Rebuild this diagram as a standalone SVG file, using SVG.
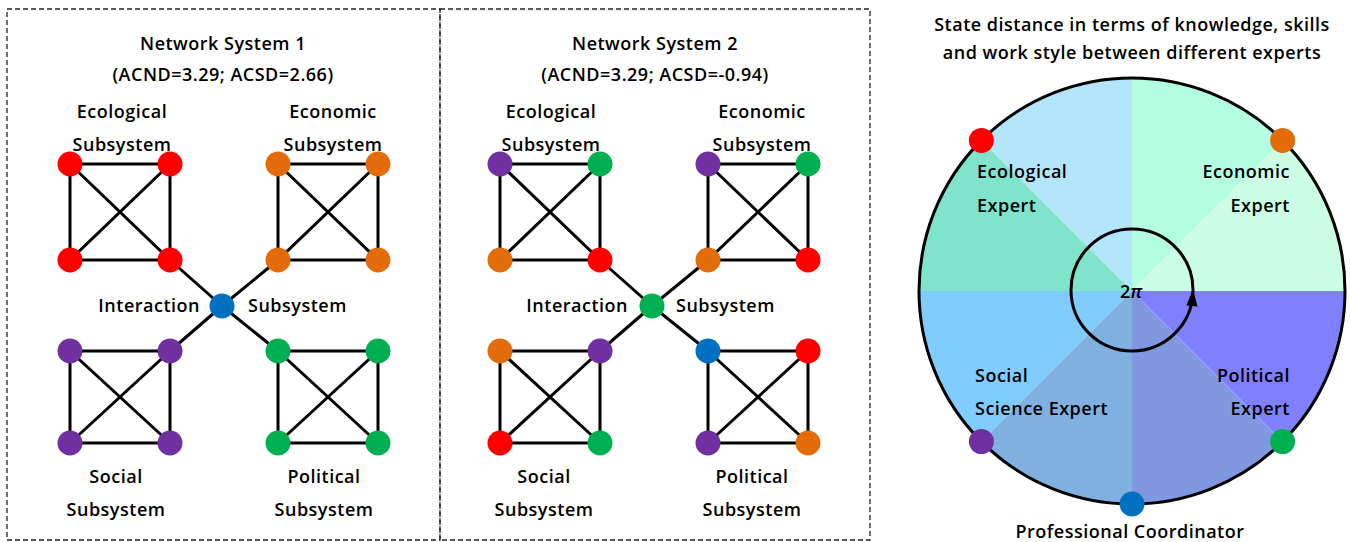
<svg xmlns="http://www.w3.org/2000/svg" width="1350" height="542" viewBox="0 0 1350 542">
  <defs>
    <style>
      .t { font-family: "Open Sans", "Liberation Sans", sans-serif; font-weight: 600; font-size: 18px; letter-spacing: 0.5px; fill: #000; }
      .mid { text-anchor: middle; }
      .end { text-anchor: end; }
      .frame { fill: none; stroke: #222; stroke-width: 1.3; stroke-dasharray: 5 3; }
      .edge { fill: none; stroke: #000; stroke-width: 3; stroke-linejoin: round; }
      .ring { fill: none; stroke: #000; stroke-width: 3; }
      .red { fill: #FF0000; }
      .orange { fill: #E36C0A; }
      .purple { fill: #7030A0; }
      .green { fill: #00B050; }
      .blue { fill: #0070C0; }
    </style>
  </defs>
  <rect width="1350" height="542" fill="#fff"/>

  <!-- dashed panel frames -->
  <rect class="frame" x="7" y="9" width="433" height="531"/>
  <rect class="frame" x="440" y="9" width="430" height="531"/>

  <!-- ===== Network System 1 ===== -->
  <text class="t mid" x="223" y="50">Network System 1</text>
  <text class="t mid" x="223" y="81">(ACND=3.29; ACSD=2.66)</text>

  <g id="connectors">
    <!-- system 1: complete graphs inside each subsystem -->
    <path class="edge" d="M70 164H170V260H70Z M70 164L170 260 M170 164L70 260"/>
    <path class="edge" d="M278 164H378V260H278Z M278 164L378 260 M378 164L278 260"/>
    <path class="edge" d="M70 351H170V443H70Z M70 351L170 443 M170 351L70 443"/>
    <path class="edge" d="M278 351H378V443H278Z M278 351L378 443 M378 351L278 443"/>
    <path class="edge" d="M170 260L222 306 M278 260L222 306 M170 351L222 306 M278 351L222 306"/>
    <!-- system 2 -->
    <path class="edge" d="M500 164H600V260H500Z M500 164L600 260 M600 164L500 260"/>
    <path class="edge" d="M708 164H808V260H708Z M708 164L808 260 M808 164L708 260"/>
    <path class="edge" d="M500 351H600V443H500Z M500 351L600 443 M600 351L500 443"/>
    <path class="edge" d="M708 351H808V443H708Z M708 351L808 443 M808 351L708 443"/>
    <path class="edge" d="M600 260L652 306 M708 260L652 306 M600 351L652 306 M708 351L652 306"/>
  </g>

  <g id="s1-ecological">
    <text class="t mid" x="122" y="118">Ecological</text>
    <text class="t mid" x="122" y="151">Subsystem</text>
    <circle class="red" cx="70" cy="164" r="12.5"/>
    <circle class="red" cx="170" cy="164" r="12.5"/>
    <circle class="red" cx="70" cy="260" r="12.5"/>
    <circle class="red" cx="170" cy="260" r="12.5"/>
  </g>
  <g id="s1-economic">
    <text class="t mid" x="333" y="118">Economic</text>
    <text class="t mid" x="333" y="151">Subsystem</text>
    <circle class="orange" cx="278" cy="164" r="12.5"/>
    <circle class="orange" cx="378" cy="164" r="12.5"/>
    <circle class="orange" cx="278" cy="260" r="12.5"/>
    <circle class="orange" cx="378" cy="260" r="12.5"/>
  </g>
  <g id="s1-interaction">
    <text class="t end" x="200" y="312">Interaction</text>
    <text class="t" x="248" y="312">Subsystem</text>
    <circle class="blue" cx="222" cy="306" r="12.5"/>
  </g>
  <g id="s1-social">
    <text class="t mid" x="116" y="483">Social</text>
    <text class="t mid" x="116" y="516">Subsystem</text>
    <circle class="purple" cx="70" cy="351" r="12.5"/>
    <circle class="purple" cx="170" cy="351" r="12.5"/>
    <circle class="purple" cx="70" cy="443" r="12.5"/>
    <circle class="purple" cx="170" cy="443" r="12.5"/>
  </g>
  <g id="s1-political">
    <text class="t mid" x="324" y="483">Political</text>
    <text class="t mid" x="324" y="516">Subsystem</text>
    <circle class="green" cx="278" cy="351" r="12.5"/>
    <circle class="green" cx="378" cy="351" r="12.5"/>
    <circle class="green" cx="278" cy="443" r="12.5"/>
    <circle class="green" cx="378" cy="443" r="12.5"/>
  </g>

  <!-- ===== Network System 2 ===== -->
  <text class="t mid" x="655" y="50">Network System 2</text>
  <text class="t mid" x="655" y="81">(ACND=3.29; ACSD=-0.94)</text>

  <g id="s2-ecological">
    <text class="t mid" x="551" y="118">Ecological</text>
    <text class="t mid" x="551" y="151">Subsystem</text>
    <circle class="purple" cx="500" cy="164" r="12.5"/>
    <circle class="green" cx="600" cy="164" r="12.5"/>
    <circle class="orange" cx="500" cy="260" r="12.5"/>
    <circle class="red" cx="600" cy="260" r="12.5"/>
  </g>
  <g id="s2-economic">
    <text class="t mid" x="762" y="118">Economic</text>
    <text class="t mid" x="762" y="151">Subsystem</text>
    <circle class="purple" cx="708" cy="164" r="12.5"/>
    <circle class="green" cx="808" cy="164" r="12.5"/>
    <circle class="orange" cx="708" cy="260" r="12.5"/>
    <circle class="red" cx="808" cy="260" r="12.5"/>
  </g>
  <g id="s2-interaction">
    <text class="t end" x="628" y="312">Interaction</text>
    <text class="t" x="676" y="312">Subsystem</text>
    <circle class="green" cx="652" cy="306" r="12.5"/>
  </g>
  <g id="s2-social">
    <text class="t mid" x="544" y="483">Social</text>
    <text class="t mid" x="544" y="516">Subsystem</text>
    <circle class="orange" cx="500" cy="351" r="12.5"/>
    <circle class="purple" cx="600" cy="351" r="12.5"/>
    <circle class="red" cx="500" cy="443" r="12.5"/>
    <circle class="green" cx="600" cy="443" r="12.5"/>
  </g>
  <g id="s2-political">
    <text class="t mid" x="752" y="483">Political</text>
    <text class="t mid" x="752" y="516">Subsystem</text>
    <circle class="blue" cx="708" cy="351" r="12.5"/>
    <circle class="red" cx="808" cy="351" r="12.5"/>
    <circle class="purple" cx="708" cy="443" r="12.5"/>
    <circle class="orange" cx="808" cy="443" r="12.5"/>
  </g>

  <!-- ===== State distance wheel ===== -->
  <text class="t mid" x="1132" y="31">State distance in terms of knowledge, skills</text>
  <text class="t mid" x="1132" y="59">and work style between different experts</text>

  <g id="wheel-sectors">
    <path fill="#B3E5FC" d="M1132 291L1132 78A213 213 0 0 0 981.4 140.4Z"/>
    <path fill="#80E4CC" d="M1132 291L981.4 140.4A213 213 0 0 0 919 291Z"/>
    <path fill="#80CCFF" d="M1132 291L919 291A213 213 0 0 0 981.4 441.6Z"/>
    <path fill="#80B0E0" d="M1132 291L981.4 441.6A213 213 0 0 0 1132 504Z"/>
    <path fill="#8098E0" d="M1132 291L1132 504A213 213 0 0 0 1282.6 441.6Z"/>
    <path fill="#8080FF" d="M1132 291L1282.6 441.6A213 213 0 0 0 1345 291Z"/>
    <path fill="#CCFDE5" d="M1132 291L1345 291A213 213 0 0 0 1282.6 140.4Z"/>
    <path fill="#B3FDE3" d="M1132 291L1282.6 140.4A213 213 0 0 0 1132 78Z"/>
  </g>
  <circle class="ring" cx="1132" cy="291" r="213"/>
  <circle class="ring" cx="1132" cy="290" r="61"/>
  <path d="M1193 289L1197.5 306.5L1186.5 305.5Z" fill="#000"/>
  <text class="t mid" x="1131" y="298" style="font-size:18px;letter-spacing:0">2<tspan font-style="italic">π</tspan></text>

  <text class="t" x="977" y="178">Ecological</text>
  <text class="t" x="977" y="212">Expert</text>
  <text class="t end" x="1290" y="178">Economic</text>
  <text class="t end" x="1290" y="212">Expert</text>
  <text class="t" x="975" y="382">Social</text>
  <text class="t" x="975" y="415">Science Expert</text>
  <text class="t end" x="1290" y="382">Political</text>
  <text class="t end" x="1290" y="415">Expert</text>

  <g id="expert-ecological"><circle class="red" cx="981.4" cy="140.4" r="12.5"/></g>
  <g id="expert-economic"><circle class="orange" cx="1282.6" cy="140.4" r="12.5"/></g>
  <g id="expert-social"><circle class="purple" cx="981.4" cy="441.6" r="12.5"/></g>
  <g id="expert-political"><circle class="green" cx="1282.6" cy="441.6" r="12.5"/></g>
  <g id="coordinator">
    <circle class="blue" cx="1132" cy="504" r="12.5"/>
    <text class="t mid" x="1130" y="538">Professional Coordinator</text>
  </g>
</svg>
